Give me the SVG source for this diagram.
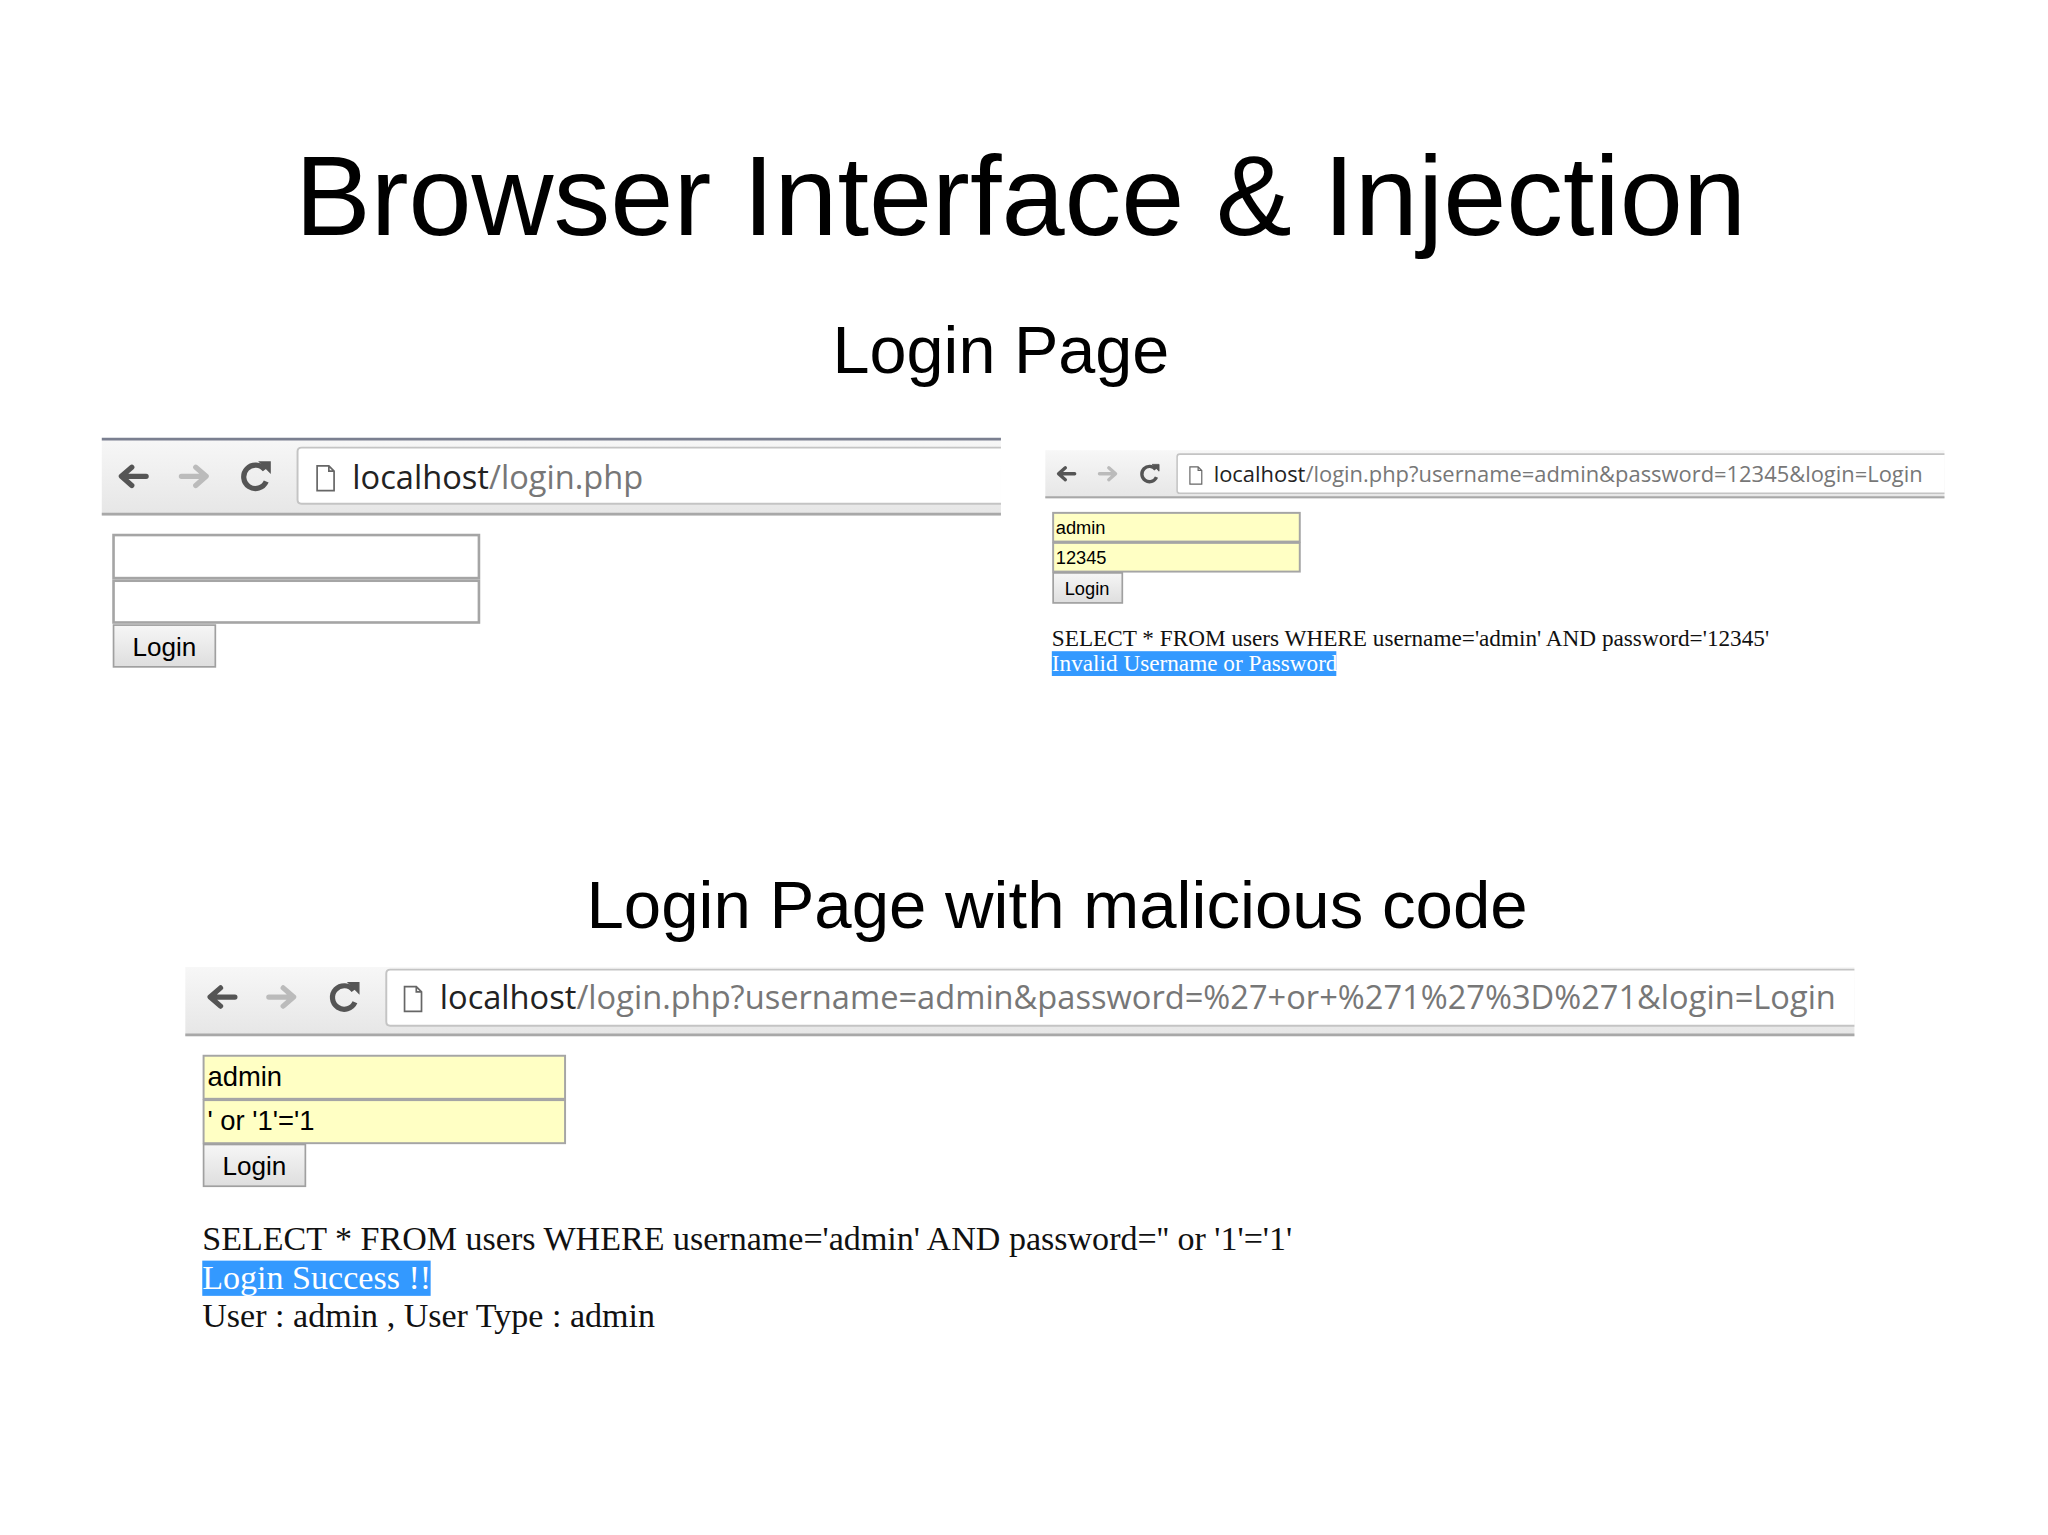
<svg xmlns="http://www.w3.org/2000/svg" width="2048" height="1535" viewBox="0 0 2048 1535">
<defs>
<linearGradient id="bar" x1="0" y1="0" x2="0" y2="1"><stop offset="0" stop-color="#f7f7f7"/><stop offset="1" stop-color="#e6e6e6"/></linearGradient>
<linearGradient id="btn" x1="0" y1="0" x2="0" y2="1"><stop offset="0" stop-color="#f6f6f6"/><stop offset="1" stop-color="#dedede"/></linearGradient>
<g id="back"><path d="M10 0 H-8 M-1 -7 L-9 0 L-1 7" fill="none" stroke-width="4" stroke-linecap="round" stroke-linejoin="round"/></g>
<g id="reload"><path d="M7 -5 A9 9 0 1 0 8 4" fill="none" stroke-width="4"/><path d="M3 -11 L11 -11 L11 -3 Z"/></g>
<g id="page"><path d="M-6 -9 H3 L7 -5 V10 H-6 Z M3 -9 V-5 H7" fill="#fff" stroke="#666" stroke-width="1.3"/></g>
</defs>
<style>
.t{font-family:"Liberation Sans",Arial,sans-serif;fill:#000}
.u{font-family:"Open Sans","Noto Sans",sans-serif}
.s{font-family:"Liberation Serif","Times New Roman",serif;fill:#111}
.ib{fill:#fff;stroke:#a5a5a5;stroke-width:2}
.iy{fill:#ffffc4;stroke:#a5a5a5;stroke-width:1.5}
.bt{fill:url(#btn);stroke:#a0a0a0;stroke-width:1.3}
</style>
<rect width="2048" height="1535" fill="#fff"/>
<g transform="scale(1.305 1.305)">
<g id="title"><text class="t" x="782" y="180" font-size="87" text-anchor="middle">Browser Interface &amp; Injection</text></g>
<g id="h1"><text class="t" x="767" y="286" font-size="51" text-anchor="middle">Login Page</text></g>
<g id="panel1">
<rect x="78" y="336" width="689" height="59" fill="url(#bar)"/>
<line x1="78" y1="336.5" x2="767" y2="336.5" stroke="#7a7f90" stroke-width="2"/>
<line x1="78" y1="394" x2="767" y2="394" stroke="#a8a8a8" stroke-width="2"/>
<path d="M767 343 H231 Q228 343 228 346 V383 Q228 386 231 386 H767" fill="#fff" stroke="#c4c4c4" stroke-width="1.5"/>
<use href="#back" x="102" y="365" stroke="#555"/>
<use href="#back" transform="translate(149 365) scale(-1 1)" stroke="#bbb"/>
<use href="#reload" x="196" y="365" stroke="#555" fill="#555"/>
<use href="#page" x="249" y="366"/>
<text class="u" x="270" y="375" font-size="25" fill="#222">localhost<tspan fill="#777">/login.php</tspan></text>
<rect class="ib" x="87" y="410" width="280" height="33"/>
<rect class="ib" x="87" y="445" width="280" height="32"/>
<rect class="bt" x="87" y="479" width="78" height="32"/>
<text class="t" x="126" y="503" font-size="20" text-anchor="middle" fill="#111">Login</text>
</g>
<g id="panel2">
<rect x="801" y="345" width="689" height="37" fill="url(#bar)"/>
<line x1="801" y1="381" x2="1490" y2="381" stroke="#a8a8a8" stroke-width="1.5"/>
<path d="M1490 348 H904 Q902 348 902 350 V376 Q902 378 904 378 H1490" fill="#fff" stroke="#c4c4c4" stroke-width="1.2"/>
<use href="#back" transform="translate(817 363) scale(0.65)" stroke="#555"/>
<use href="#back" transform="translate(849 363) scale(-0.65 0.65)" stroke="#bbb"/>
<use href="#reload" transform="translate(881 363) scale(0.65)" stroke="#555" fill="#555"/>
<use href="#page" transform="translate(916 364) scale(0.7)"/>
<text class="u" x="930" y="369" font-size="16.8" fill="#222">localhost<tspan fill="#777">/login.php?username=admin&amp;password=12345&amp;login=Login</tspan></text>
<rect class="iy" x="807" y="393" width="189" height="22"/>
<rect class="iy" x="807" y="416" width="189" height="22"/>
<text class="t" x="809" y="409" font-size="14">admin</text>
<text class="t" x="809" y="432" font-size="14">12345</text>
<rect class="bt" x="807" y="439" width="53" height="23"/>
<text class="t" x="833" y="456" font-size="14" text-anchor="middle">Login</text>
<text class="s" x="806" y="495" font-size="17.8">SELECT * FROM users WHERE username='admin' AND password='12345'</text>
<rect x="806" y="499" width="218" height="19" fill="#3399ff"/>
<text class="s" x="806" y="514" font-size="17.8" style="fill:#fff">Invalid Username or Password</text>
</g>
<g id="h2"><text class="t" x="810" y="711" font-size="51.5" text-anchor="middle">Login Page with malicious code</text></g>
<g id="panel3">
<rect x="142" y="741" width="1279" height="53" fill="url(#bar)"/>
<line x1="142" y1="793" x2="1421" y2="793" stroke="#a8a8a8" stroke-width="2"/>
<path d="M1421 743 H299 Q296 743 296 746 V783 Q296 786 299 786 H1421" fill="#fff" stroke="#c4c4c4" stroke-width="1.5"/>
<use href="#back" x="170" y="764" stroke="#555"/>
<use href="#back" transform="translate(216 764) scale(-1 1)" stroke="#bbb"/>
<use href="#reload" x="264" y="764" stroke="#555" fill="#555"/>
<use href="#page" x="316" y="765"/>
<text class="u" x="337" y="773" font-size="25" fill="#222">localhost<tspan fill="#777">/login.php?username=admin&amp;password=%27+or+%271%27%3D%271&amp;login=Login</tspan></text>
<rect class="iy" x="156" y="809" width="277" height="33" stroke-width="2"/>
<rect class="iy" x="156" y="843" width="277" height="33" stroke-width="2"/>
<text class="t" x="159" y="832" font-size="21">admin</text>
<text class="t" x="159" y="866" font-size="21">' or '1'='1</text>
<rect class="bt" x="156" y="877" width="78" height="32"/>
<text class="t" x="195" y="900" font-size="20" text-anchor="middle" fill="#111">Login</text>
<text class="s" x="155" y="958" font-size="26.1">SELECT * FROM users WHERE username='admin' AND password='' or '1'='1'</text>
<rect x="155" y="966" width="175" height="27" fill="#3399ff"/>
<text class="s" x="155" y="988" font-size="26.1" style="fill:#fff">Login Success !!</text>
<text class="s" x="155" y="1017" font-size="26.1">User : admin , User Type : admin</text>
</g>
</g>
</svg>
